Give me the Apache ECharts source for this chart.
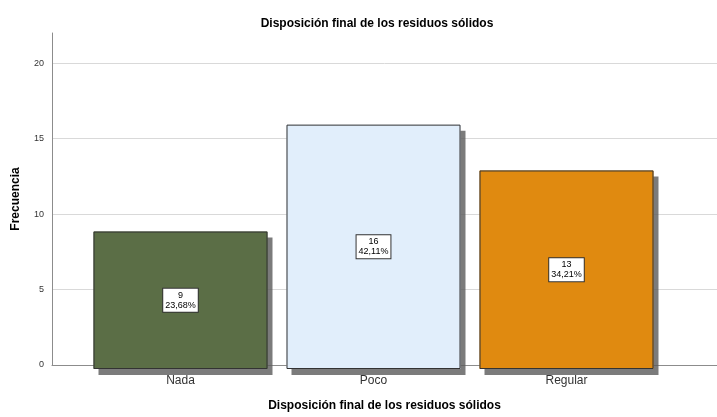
<!DOCTYPE html>
<html>
<head>
<meta charset="utf-8">
<script src="https://cdn.jsdelivr.net/npm/echarts@6/dist/echarts.min.js"></script>
<style>
  html, body { margin: 0; padding: 0; background: #fff; }
  #chart { width: 717px; height: 417px; }
</style>
</head>
<body>
<div id="chart"></div>
<script>
const categories = ['Nada', 'Poco', 'Regular']
const counts = [9, 16, 13]
const percents = ['23,68%', '42,11%', '34,21%']
const barColors = ['#5b6e46', '#e1eefb', '#e08a10']
const yTicks = { min: 0, max: 22, interval: 5 }

const font = '"Liberation Sans", Arial, sans-serif'

const chart = echarts.init(document.getElementById('chart'))

const option = {
  animation: false,
  title: {
    text: 'Disposición final de los residuos sólidos',
    left: 372,
    top: 13,
    textAlign: 'center',
    textStyle: { fontFamily: font, fontSize: 12, fontWeight: 'bold', color: '#000' }
  },
  grid: [
    // axes + gridlines
    { left: 52, right: 0, top: 33, bottom: 48 },
    // bars
    { left: 84, right: 54, top: 33, bottom: 48 }
  ],
  xAxis: [
    {
      gridIndex: 0,
      type: 'value',
      min: 0,
      max: 1,
      axisLine: { show: true, lineStyle: { color: '#8c8c8c' } },
      axisTick: { show: false },
      axisLabel: { show: false },
      splitLine: { show: false },
      name: 'Disposición final de los residuos sólidos',
      nameLocation: 'middle',
      nameGap: 35,
      nameTextStyle: { fontFamily: font, fontSize: 12, fontWeight: 'bold', color: '#000' }
    },
    {
      gridIndex: 1,
      type: 'category',
      data: categories,
      axisLine: { show: false },
      axisTick: { show: false },
      axisLabel: { fontFamily: font, fontSize: 12, color: '#333', margin: 6 }
    }
  ],
  yAxis: [
    {
      gridIndex: 0,
      type: 'value',
      min: yTicks.min,
      max: yTicks.max,
      interval: yTicks.interval,
      axisLine: { show: true, lineStyle: { color: '#8c8c8c' } },
      axisTick: { show: false },
      axisLabel: { fontFamily: font, fontSize: 9, color: '#333', margin: 8, showMaxLabel: false },
      splitLine: { show: true, showMaxLine: false, lineStyle: { color: '#d9d9d9' } },
      name: 'Frecuencia',
      nameLocation: 'middle',
      nameGap: 30,
      nameTextStyle: { fontFamily: font, fontSize: 12, fontWeight: 'bold', color: '#000' }
    },
    {
      gridIndex: 1,
      type: 'value',
      min: yTicks.min,
      max: yTicks.max,
      interval: yTicks.interval,
      show: false,
      splitLine: { show: false }
    }
  ],
  series: [
    // filled bars with drop shadow (no border so the shadow stays outside)
    {
      type: 'bar',
      xAxisIndex: 1,
      yAxisIndex: 1,
      barWidth: 174,
      barGap: '-100%',
      data: counts.map((v, i) => ({
        value: v,
        itemStyle: { color: barColors[i] }
      })),
      itemStyle: {
        borderWidth: 0,
        shadowColor: 'rgba(90,90,90,0.8)',
        shadowOffsetX: 5,
        shadowOffsetY: 6,
        shadowBlur: 0
      }
    },
    // outline + labels on top
    {
      type: 'bar',
      xAxisIndex: 1,
      yAxisIndex: 1,
      barWidth: 174,
      barGap: '-100%',
      data: counts,
      itemStyle: {
        color: 'transparent',
        borderColor: '#333',
        borderWidth: 1
      },
      label: {
        show: true,
        position: 'inside',
        formatter: (p) => p.value + '\n' + percents[p.dataIndex],
        fontFamily: font,
        fontSize: 9,
        lineHeight: 10,
        color: '#000',
        backgroundColor: '#fff',
        borderColor: '#333',
        borderWidth: 1,
        padding: [2, 2, 1, 2],
        align: 'center'
      }
    }
  ]
}

chart.setOption(option)
</script>
</body>
</html>
